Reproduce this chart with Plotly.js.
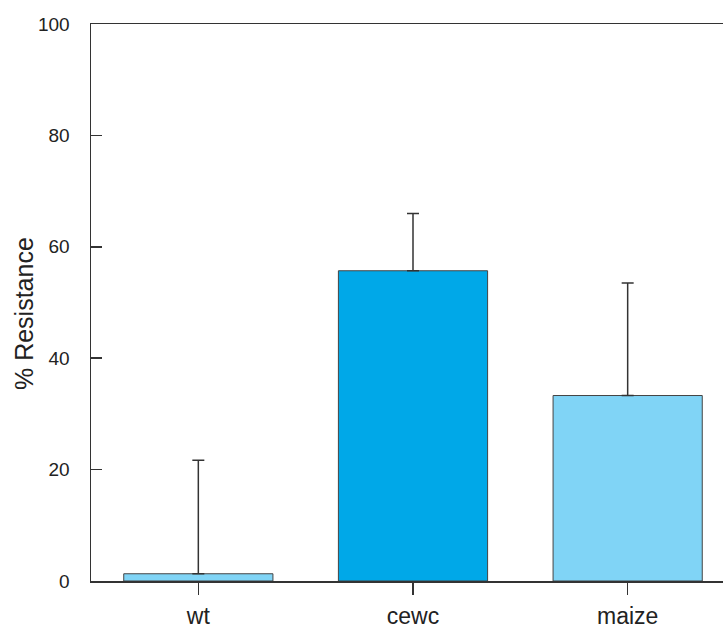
<!DOCTYPE html>
<html>
<head>
<meta charset="utf-8">
<script src="https://cdn.plot.ly/plotly-3.0.1.min.js"></script>
<style>
html,body{margin:0;padding:0;overflow:hidden;background:#fff;width:723px;height:629px;}
#chart{width:740px;height:629px;}
</style>
</head>
<body>
<div id="chart"></div>
<script>
const categories = ["wt", "cewc", "maize"];
const resistance = [1.3, 55.7, 33.3];
const errorUp = [20.4, 10.3, 20.2];
const errorDown = [0, 0, 0];
const yTicks = [0, 20, 40, 60, 80, 100];
const barColors = ["#80D4F6", "#00A8E8", "#80D4F6"];

const trace = {
  type: "bar",
  x: categories,
  y: resistance,
  width: 0.695,
  marker: {color: barColors, line: {color: "#444", width: 1}},
  error_y: {
    type: "data",
    symmetric: false,
    array: errorUp,
    arrayminus: errorDown,
    color: "#333",
    thickness: 1.5,
    width: 6
  },
  hoverinfo: "none"
};

const layout = {
  width: 740,
  height: 629,
  margin: {l: 91, r: 5, t: 24, b: 48},
  paper_bgcolor: "#fff",
  plot_bgcolor: "#fff",
  showlegend: false,
  font: {family: "Liberation Sans, Arial, sans-serif", color: "#222"},
  xaxis: {
    range: [-0.5, 2.5],
    showline: true,
    mirror: true,
    linecolor: "#333",
    linewidth: 1.5,
    ticks: "outside",
    ticklen: 12,
    tickwidth: 1.5,
    tickcolor: "#333",
    tickfont: {size: 23, color: "#222"},
    ticklabelstandoff: 2,
    showgrid: false,
    zeroline: false
  },
  yaxis: {
    range: [0, 100],
    tickvals: yTicks,
    ticktext: yTicks.map(String),
    showline: true,
    mirror: false,
    linecolor: "#333",
    linewidth: 1.5,
    ticks: "inside",
    ticklen: 11,
    tickwidth: 1.5,
    tickcolor: "#333",
    tickfont: {size: 19, color: "#222"},
    ticklabelstandoff: 16,
    showgrid: false,
    zeroline: false
  },
  annotations: [{
    text: "% Resistance",
    xref: "paper", yref: "paper",
    x: -0.105, y: 0.48,
    xanchor: "center", yanchor: "middle",
    textangle: -90,
    showarrow: false,
    font: {size: 25, color: "#222"}
  }]
};

Plotly.newPlot("chart", [trace], layout, {staticPlot: true, displayModeBar: false});
</script>
</body>
</html>
